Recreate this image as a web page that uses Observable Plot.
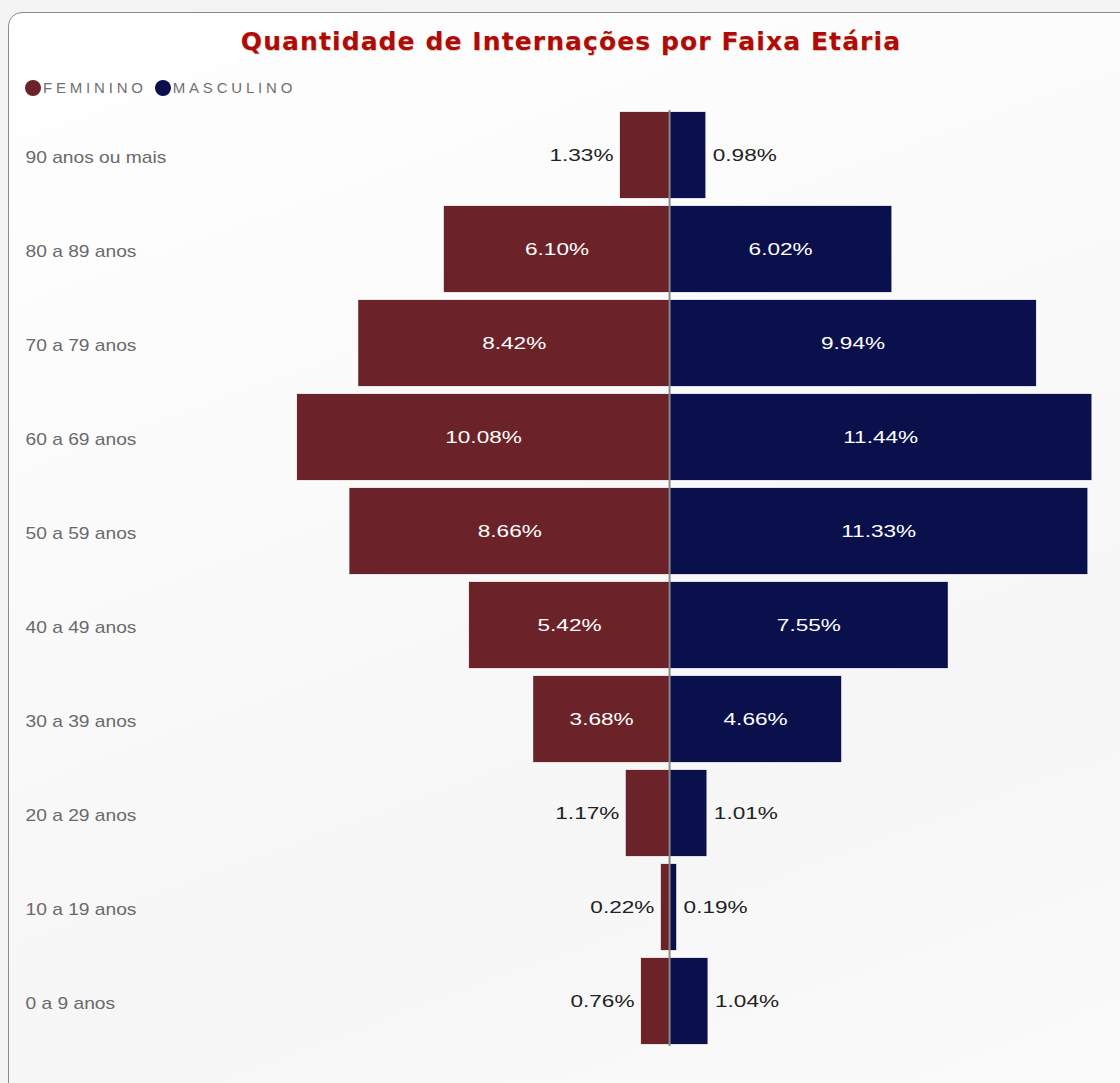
<!DOCTYPE html>
<html>
<head>
<meta charset="utf-8">
<script src="https://cdn.jsdelivr.net/npm/d3@7"></script>
<script src="https://cdn.jsdelivr.net/npm/@observablehq/plot@0.6"></script>
<style>
  html, body { margin: 0; padding: 0; background: #f4f4f4; width: 1120px; height: 1083px; overflow: hidden; }
  #card {
    position: absolute; left: 8px; top: 12px; width: 1130px; height: 1090px;
    border: 1.5px solid #8a8a8a; border-radius: 14px;
    background: linear-gradient(160deg, #ffffff 0%, #fafafa 40%, #f6f6f6 70%, #fbfbfb 100%);
  }
  #title {
    position: absolute; left: 0; top: 27px; width: 1142px; text-align: center;
    font-family: "DejaVu Sans", sans-serif; font-weight: 700; font-size: 25px;
    letter-spacing: 1.1px;
    color: #b00a0a; text-shadow: 0.5px 0.5px 1px rgba(120,80,0,0.35);
  }
  #legend {
    position: absolute; left: 25px; top: 79px; display: flex; align-items: center;
    font-family: "Liberation Sans", Arial, sans-serif; font-size: 15px; color: #707070;
    letter-spacing: 3.8px;
  }
  #legend .sw { width: 16px; height: 16px; border-radius: 50%; display: inline-block; margin-right: 2px; }
  #legend .item { display: flex; align-items: center; margin-right: 8px; }
  #chart { position: absolute; left: 0; top: 100px; }
</style>
</head>
<body>
<div id="card"></div>
<div id="title">Quantidade de Internações por Faixa Etária</div>
<div id="legend"></div>
<div id="chart"></div>
<script>
const faixas = ["90 anos ou mais","80 a 89 anos","70 a 79 anos","60 a 69 anos","50 a 59 anos","40 a 49 anos","30 a 39 anos","20 a 29 anos","10 a 19 anos","0 a 9 anos"];
const feminino = [1.33, 6.10, 8.42, 10.08, 8.66, 5.42, 3.68, 1.17, 0.22, 0.76];
const masculino = [0.98, 6.02, 9.94, 11.44, 11.33, 7.55, 4.66, 1.01, 0.19, 1.04];
const series = ["FEMININO", "MASCULINO"];
const cores = ["#6b2329", "#09104c"];

const rows = [];
faixas.forEach((f, i) => {
  rows.push({faixa: f, sexo: series[0], v: feminino[i], x: -feminino[i]});
  rows.push({faixa: f, sexo: series[1], v: masculino[i], x: masculino[i]});
});
const inside = rows.filter(d => d.v >= 3);
const outF = rows.filter(d => d.v < 3 && d.sexo === series[0]);
const outM = rows.filter(d => d.v < 3 && d.sexo === series[1]);
const fmt = d => d.v.toFixed(2) + "%";

const leg = document.getElementById("legend");
series.forEach((s, i) => {
  const it = document.createElement("span");
  it.className = "item";
  it.innerHTML = `<span class="sw" style="background:${cores[i]}"></span>${s}`;
  leg.appendChild(it);
});

const chart = Plot.plot({
  width: 1120,
  height: 960,
  marginLeft: 25,
  marginRight: 8,
  marginTop: 10,
  marginBottom: 14,
  style: {background: "transparent", fontFamily: "Liberation Sans, Arial, sans-serif"},
  x: {domain: [-17.45, 12.0], axis: null},
  y: {domain: faixas, axis: null, paddingInner: 0.084, paddingOuter: 0},
  color: {domain: series, range: cores},
  marks: [
    Plot.barX(rows, {y: "faixa", x1: 0, x2: "x", fill: "sexo", stroke: "sexo", strokeOpacity: 0.4, strokeWidth: 0.5}),
    Plot.ruleX([0], {stroke: "#8a8a8a", strokeWidth: 2}),
    Plot.text(faixas, {y: d => d, text: d => d, frameAnchor: "left", textAnchor: "start", dy: 2, fill: "#6a6a6a", fontSize: 16}),
    Plot.text(inside, {y: "faixa", x: d => d.x / 2, text: fmt, fill: "white", fontSize: 17}),
    Plot.text(outF, {y: "faixa", x: "x", text: fmt, fill: "#222", fontSize: 17, textAnchor: "end", dx: -7}),
    Plot.text(outM, {y: "faixa", x: "x", text: fmt, fill: "#222", fontSize: 17, textAnchor: "start", dx: 7})
  ]
});
document.getElementById("chart").appendChild(chart);
chart.querySelectorAll("text").forEach(t => {
  const s = t.textContent.trim().endsWith("%") ? 1.33 : 1.2;
  const tr = t.getAttribute("transform");
  if (tr) {
    t.setAttribute("transform", tr + ` scale(${s},1)`);
  } else {
    const x = +t.getAttribute("x") || 0, y = +t.getAttribute("y") || 0;
    t.removeAttribute("x"); t.removeAttribute("y");
    t.setAttribute("transform", `translate(${x},${y}) scale(${s},1)`);
  }
});
</script>
</body>
</html>
